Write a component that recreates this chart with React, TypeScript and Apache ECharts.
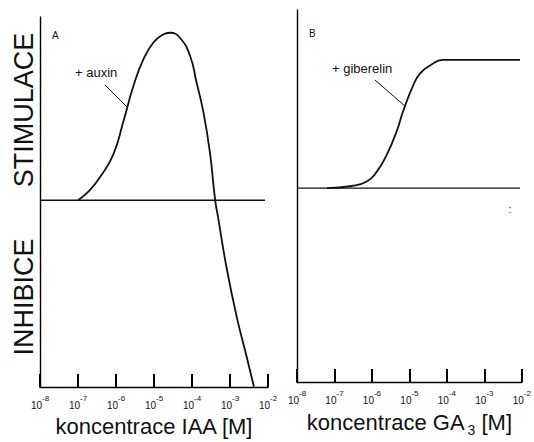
import React, { useEffect, useRef } from "react";
import * as echarts from "echarts";

// decade exponents of concentration [M]
const decadeTicks = [-8, -7, -6, -5, -4, -3, -2];

// Panel A: auxin (IAA) response, log10 concentration vs. response
const auxinLogConc = [-7.0, -6.7, -6.42, -6.07, -5.81, -5.54, -5.28, -5.02, -4.76, -4.58, -4.32, -4.05, -3.88, -3.7, -3.53, -3.39, -3.31, -3.09, -2.82, -2.56, -2.37];
const auxinResponse = [0, 5.2, 12.5, 24.8, 42.2, 61.8, 76.1, 85.1, 89.5, 90.5, 87.8, 77.9, 63.6, 47.6, 26.1, 0, -9.7, -36.5, -63.3, -84.7, -100.8];

// Panel B: gibberellin (GA3) response
const gaLogConc = [-7.2, -6.54, -6.14, -5.87, -5.61, -5.34, -5.17, -4.9, -4.72, -4.45, -4.1, -3.2, -2.05];
const gaResponse = [0, 1.2, 3.6, 9.0, 18.0, 31, 41.8, 56, 62.4, 66.8, 69.9, 69.9, 69.9];

// zero (control) lines
const baselineA = [[-8, 0], [-2.08, 0]];
const baselineB = [[-8, 0], [-2.05, 0]];

// y ranges of both panels
const rangeA = [-101, 99];
const rangeB = [-105.5, 97];

const FONT = "'Liberation Sans', Arial, sans-serif";
const INK = "#111";

function zip(xs: number[], ys: number[]) {
  return xs.map((x, i) => [x, ys[i]]);
}

function makeXAxis(gridIndex: number, name: string) {
  return {
    type: "value",
    gridIndex,
    min: decadeTicks[0],
    max: decadeTicks[decadeTicks.length - 1],
    interval: 1,
    axisLine: { show: true, onZero: false, lineStyle: { color: "#000", width: 1.4 } },
    axisTick: { show: true, inside: true, length: 13, lineStyle: { color: "#000", width: 2 } },
    splitLine: { show: false },
    axisLabel: {
      margin: 7,
      color: INK,
      formatter: (v: number) => `{b|10}{s|${v}}`,
      rich: {
        b: { fontSize: 10, fontFamily: FONT, color: INK, lineHeight: 16, verticalAlign: "bottom" },
        s: { fontSize: 8, fontFamily: FONT, color: INK, lineHeight: 16, verticalAlign: "top" },
      },
    },
    name,
    nameLocation: "middle",
    nameGap: 25,
    nameTextStyle: {
      fontSize: 22,
      fontFamily: FONT,
      color: INK,
      rich: {
        t: { fontSize: 22, fontFamily: FONT, color: INK, lineHeight: 26, verticalAlign: "bottom" },
        sub: { fontSize: 14, fontFamily: FONT, color: INK, lineHeight: 26, verticalAlign: "bottom", padding: [0, 0, -4, 3] },
      },
    },
  };
}

function makeYAxis(gridIndex: number, range: number[]) {
  return {
    type: "value",
    gridIndex,
    min: range[0],
    max: range[1],
    axisLine: { show: true, onZero: false, lineStyle: { color: "#000", width: 1.4 } },
    axisTick: { show: false },
    axisLabel: { show: false },
    splitLine: { show: false },
  };
}

export default function App() {
  const ref = useRef<HTMLDivElement>(null);

  useEffect(() => {
    if (!ref.current) return;
    const chart = echarts.init(ref.current, null, { renderer: "svg" });
    const lineBase = { type: "line", symbol: "none", silent: true };
    chart.setOption({
      animation: false,
      backgroundColor: "#fff",
      grid: [
        { left: 40, right: 266, top: 17, bottom: 52 },
        { left: 297, right: 12, top: 10, bottom: 54 },
      ],
      xAxis: [
        makeXAxis(0, "koncentrace IAA [M]"),
        makeXAxis(1, "{t|koncentrace GA}{sub|3}{t| [M]}"),
      ],
      yAxis: [makeYAxis(0, rangeA), makeYAxis(1, rangeB)],
      series: [
        { ...lineBase, xAxisIndex: 0, yAxisIndex: 0, data: baselineA, lineStyle: { color: INK, width: 1.4 } },
        { ...lineBase, xAxisIndex: 1, yAxisIndex: 1, data: baselineB, lineStyle: { color: INK, width: 1.2 } },
        { ...lineBase, xAxisIndex: 0, yAxisIndex: 0, smooth: 0.5, data: zip(auxinLogConc, auxinResponse), lineStyle: { color: INK, width: 1.8 } },
        { ...lineBase, xAxisIndex: 1, yAxisIndex: 1, smooth: 0.5, data: zip(gaLogConc, gaResponse), lineStyle: { color: INK, width: 1.8 } },
      ],
      graphic: [
        { type: "text", x: 24, y: 110, rotation: Math.PI / 2, style: { text: "STIMULACE", fontSize: 27, fontFamily: FONT, fill: INK, align: "center", verticalAlign: "middle" } },
        { type: "text", x: 24, y: 297, rotation: Math.PI / 2, style: { text: "INHIBICE", fontSize: 27, fontFamily: FONT, fill: INK, align: "center", verticalAlign: "middle" } },
        { type: "text", x: 52, y: 35, style: { text: "A", fontSize: 10, fontFamily: FONT, fill: INK, verticalAlign: "middle" } },
        { type: "text", x: 309, y: 33, style: { text: "B", fontSize: 10, fontFamily: FONT, fill: INK, verticalAlign: "middle" } },
        { type: "text", x: 75, y: 72, style: { text: "+ auxin", fontSize: 13, fontFamily: FONT, fill: INK, verticalAlign: "middle" } },
        { type: "text", x: 332, y: 68, style: { text: "+ giberelin", fontSize: 13, fontFamily: FONT, fill: INK, verticalAlign: "middle" } },
        { type: "line", shape: { x1: 105, y1: 85, x2: 127, y2: 107 }, style: { stroke: INK, lineWidth: 1 } },
        { type: "line", shape: { x1: 375, y1: 80, x2: 406, y2: 107 }, style: { stroke: INK, lineWidth: 1 } },
        { type: "text", x: 510, y: 209, style: { text: ":", fontSize: 10, fontFamily: FONT, fill: INK, align: "center", verticalAlign: "middle" } },
      ],
    });
    return () => chart.dispose();
  }, []);

  return <div ref={ref} style={{ width: 534, height: 442, position: "absolute", left: 0, top: 0 }} />;
}
